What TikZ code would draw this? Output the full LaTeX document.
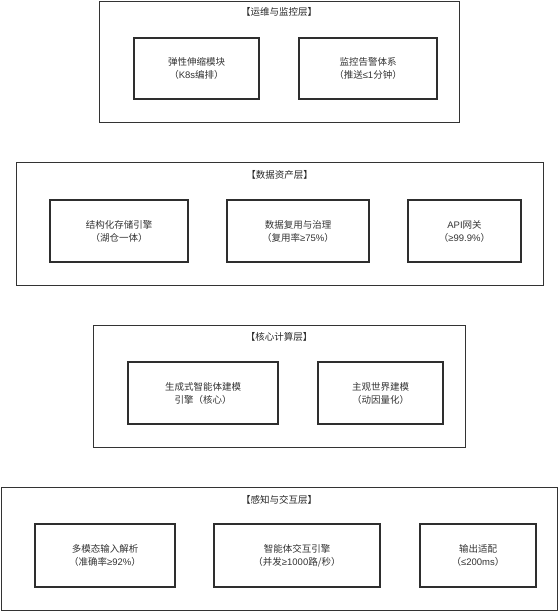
\documentclass[tikz,border=0pt]{standalone}
\usepackage{fontspec}
\setmainfont{Noto Sans CJK SC}
\newfontfamily\latf{Liberation Sans}
\newcommand{\lt}[1]{{\latf #1}}
\begin{document}
\begin{tikzpicture}[x=1pt,y=-1pt,
  layerbox/.style={draw=black!80, line width=1pt, rectangle, inner sep=0pt},
  modbox/.style={draw=black!82, line width=1.6pt, rectangle, inner sep=0pt, align=center,
    font=\fontsize{9.5}{13}\selectfont, text=black!80},
  layertitle/.style={inner sep=0pt, font=\fontsize{9.5}{13}\selectfont, text=black!85}]
\useasboundingbox (0,0) rectangle (559,612);
% Layer 1
\node[layerbox, minimum width=360pt, minimum height=121pt] (L1) at (279,62.5) {};
\node[layertitle] (T1) at (279,12) {【运维与监控层】};
\node[modbox, minimum width=125pt, minimum height=61pt] (A1) at (196.5,68.5) {弹性伸缩模块\\（\lt{K8s}编排）};
\node[modbox, minimum width=138pt, minimum height=61pt] (A2) at (368,68.5) {监控告警体系\\（推送\lt{≤1}分钟）};
% Layer 2
\node[layerbox, minimum width=527pt, minimum height=122pt] (L2) at (279.5,224) {};
\node[layertitle] (T2) at (279.5,175) {【数据资产层】};
\node[modbox, minimum width=138pt, minimum height=62pt] (B1) at (119,231) {结构化存储引擎\\（湖仓一体）};
\node[modbox, minimum width=142pt, minimum height=62pt] (B2) at (298,231) {数据复用与治理\\（复用率\lt{≥75\%}）};
\node[modbox, minimum width=113pt, minimum height=62pt] (B3) at (464.5,231) {\lt{API}网关\\（\lt{≥99.9\%}）};
% Layer 3
\node[layerbox, minimum width=372pt, minimum height=122pt] (L3) at (279,386) {};
\node[layertitle] (T3) at (279,337) {【核心计算层】};
\node[modbox, minimum width=150pt, minimum height=62pt] (C1) at (203,393) {生成式智能体建模\\引擎（核心）};
\node[modbox, minimum width=125pt, minimum height=62pt] (C2) at (380.5,393) {主观世界建模\\（动因量化）};
% Layer 4
\node[layerbox, minimum width=556pt, minimum height=123pt] (L4) at (279,548.5) {};
\node[layertitle] (T4) at (279,500) {【感知与交互层】};
\node[modbox, minimum width=140pt, minimum height=63pt] (D1) at (105,555.5) {多模态输入解析\\（准确率\lt{≥92\%}）};
\node[modbox, minimum width=166pt, minimum height=63pt] (D2) at (297,555.5) {智能体交互引擎\\（并发\lt{≥1000}路/秒）};
\node[modbox, minimum width=116pt, minimum height=63pt] (D3) at (478,555.5) {输出适配\\（\lt{≤200ms}）};
\end{tikzpicture}
\end{document}
